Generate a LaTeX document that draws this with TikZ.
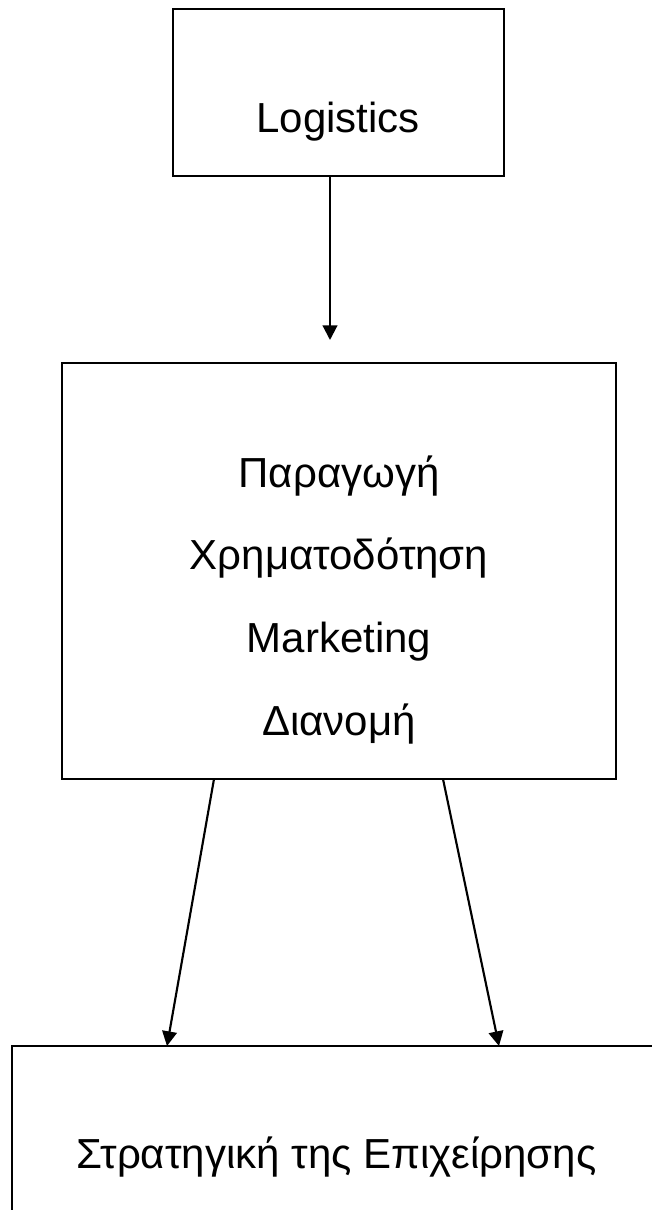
\documentclass[tikz,border=0pt]{standalone}
\usepackage{fontspec}
\setmainfont{Liberation Sans}
\usetikzlibrary{arrows.meta}
\tikzset{
  box/.style={draw=black, line width=1.8pt, rectangle, inner sep=0pt},
  lbl/.style={anchor=base, inner sep=0pt, font=\fontsize{31.5}{37}\selectfont},
  arr/.style={draw=black, line width=1.6pt, -{Triangle[length=11pt,width=11pt]}}
}
\begin{document}
\begin{tikzpicture}[x=0.75pt,y=-0.75pt]
\clip (0,0) rectangle (652,1210);
% boxes
\node[box, minimum width=248.25pt, minimum height=125.25pt] (top) at (338.5,92.5) {};
\node[box, minimum width=415.5pt, minimum height=312pt] (mid) at (339,571) {};
\node[box, minimum width=487.5pt, minimum height=180pt] (bot) at (337,1166) {};
% texts
\node[lbl] (tlog) at (338,132) {Logistics};
\node[lbl] (t1) at (339,487) {Παραγωγή};
\node[lbl] (t2) at (339,569) {Χρηματοδότηση};
\node[lbl] (t3) at (339,652) {Marketing};
\node[lbl] (t4) at (339,735) {Διανομή};
\node[lbl] (tbot) at (336.5,1168) {Στρατηγική της Επιχείρησης};
% connector end points
\coordinate (ts) at (330,176);
\coordinate (te) at (330,340);
\coordinate (ms1) at (214,779);
\coordinate (ms2) at (443,779);
\coordinate (bn1) at (167,1046);
\coordinate (bn2) at (499,1046);
% connectors
\draw[arr] (ts) -- (te);
\draw[arr] (ms1) -- (bn1);
\draw[arr] (ms2) -- (bn2);
\end{tikzpicture}
\end{document}
